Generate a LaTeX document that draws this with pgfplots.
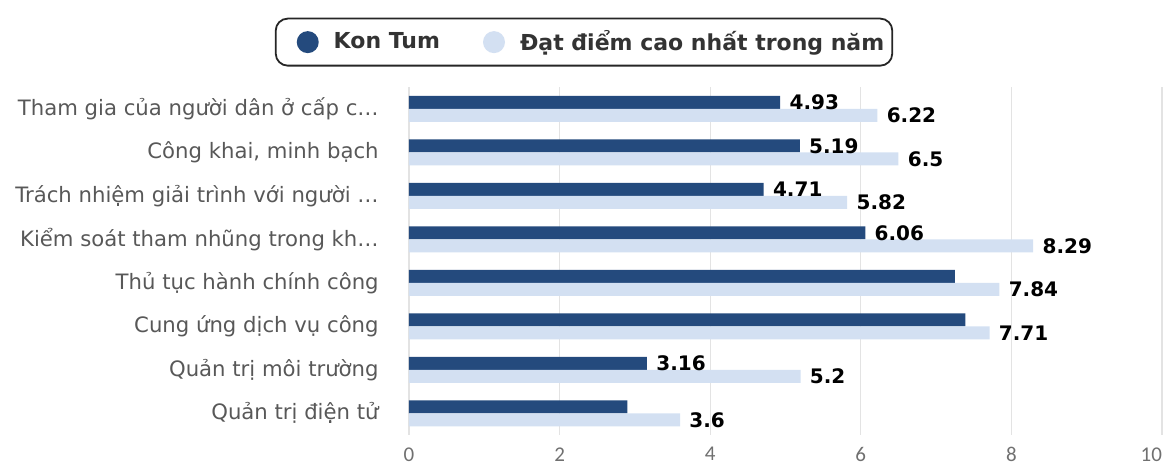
\documentclass[border=0pt]{standalone}
\usepackage{fontspec}
\setmainfont{DejaVu Sans}
\newfontfamily\tickfont{Carlito}
\usepackage{pgfplots}
\pgfplotsset{compat=1.18}
\definecolor{kontum}{HTML}{244A7D}
\definecolor{topscore}{HTML}{D3E0F2}
\definecolor{gridgray}{HTML}{E3E3E3}
\definecolor{labelgray}{HTML}{585858}
\definecolor{ticktext}{HTML}{707070}

\begin{document}
\begin{tikzpicture}
\useasboundingbox (0pt,0pt) rectangle (582pt,-233pt);
\begin{axis}[
  at={(204.5pt,-217.5pt)}, anchor=south west,
  scale only axis, width=376.5pt, height=174pt,
  clip=false,
  xbar, bar width=6.5pt,
  xmin=0, xmax=10, ymin=-0.5, ymax=7.5,
  xtick={0,2,...,10},
  xticklabels={0,2,4,6,8,\llap{10}},
  ytick={0,...,7},
  yticklabels={Quản trị điện tử, Quản trị môi trường, Cung ứng dịch vụ công, Thủ tục hành chính công, Kiểm soát tham nhũng trong kh…, Trách nhiệm giải trình với người …, {Công khai, minh bạch}, Tham gia của người dân ở cấp c…},
  axis line style={draw=none},
  major tick length=0pt,
  xmajorgrids, grid style={gridgray, line width=0.6pt},
  /pgf/number format/assume math mode=true,
  yticklabel style={font=\fontsize{10.6}{12}\selectfont, text=labelgray, anchor=east, inner sep=0pt, xshift=-15pt},
  xticklabel style={font=\tickfont\fontsize{10.5}{12}\selectfont, text=ticktext, anchor=north, inner sep=0pt, yshift=-6pt},
  nodes near coords, point meta=explicit symbolic,
  nodes near coords style={anchor=west, inner sep=0pt, xshift=4.5pt, text=black, font=\bfseries\fontsize{10}{12}\selectfont},
  legend columns=2,
  legend style={
    at={(axis description cs:0.2324,1.129)}, anchor=center,
    draw=black!85, line width=0.9pt, rounded corners=6pt,
    inner xsep=4pt, inner ysep=6pt,
    font=\bfseries\fontsize{11}{13}\selectfont, text=black!80,
    nodes={inner sep=0pt},
    /tikz/every odd column/.append style={column sep=7.5pt},
    /tikz/every even column/.append style={column sep=15pt},
  },
]
\addplot+[draw=none, fill=kontum, bar shift=3.25pt,
  legend image code/.code={\path (0pt,0pt); \fill[kontum] (12pt,0pt) circle (5.5pt);}]
  coordinates {
  (4.93,7) [4.93]
  (5.19,6) [5.19]
  (4.71,5) [4.71]
  (6.06,4) [6.06]
  (7.25,3) []
  (7.39,2) []
  (3.16,1) [3.16]
  (2.9,0) []
  };
\addlegendentry{Kon Tum}
\addplot+[draw=none, fill=topscore, bar shift=-3.25pt,
  legend image code/.code={\path (0pt,0pt); \fill[topscore] (12pt,0pt) circle (5.5pt);}]
  coordinates {
  (6.22,7) [6.22]
  (6.5,6) [6.5]
  (5.82,5) [5.82]
  (8.29,4) [8.29]
  (7.84,3) [7.84]
  (7.71,2) [7.71]
  (5.2,1) [5.2]
  (3.6,0) [3.6]
  };
\addlegendentry{Đạt điểm cao nhất trong năm}
\end{axis}
\end{tikzpicture}
\end{document}
